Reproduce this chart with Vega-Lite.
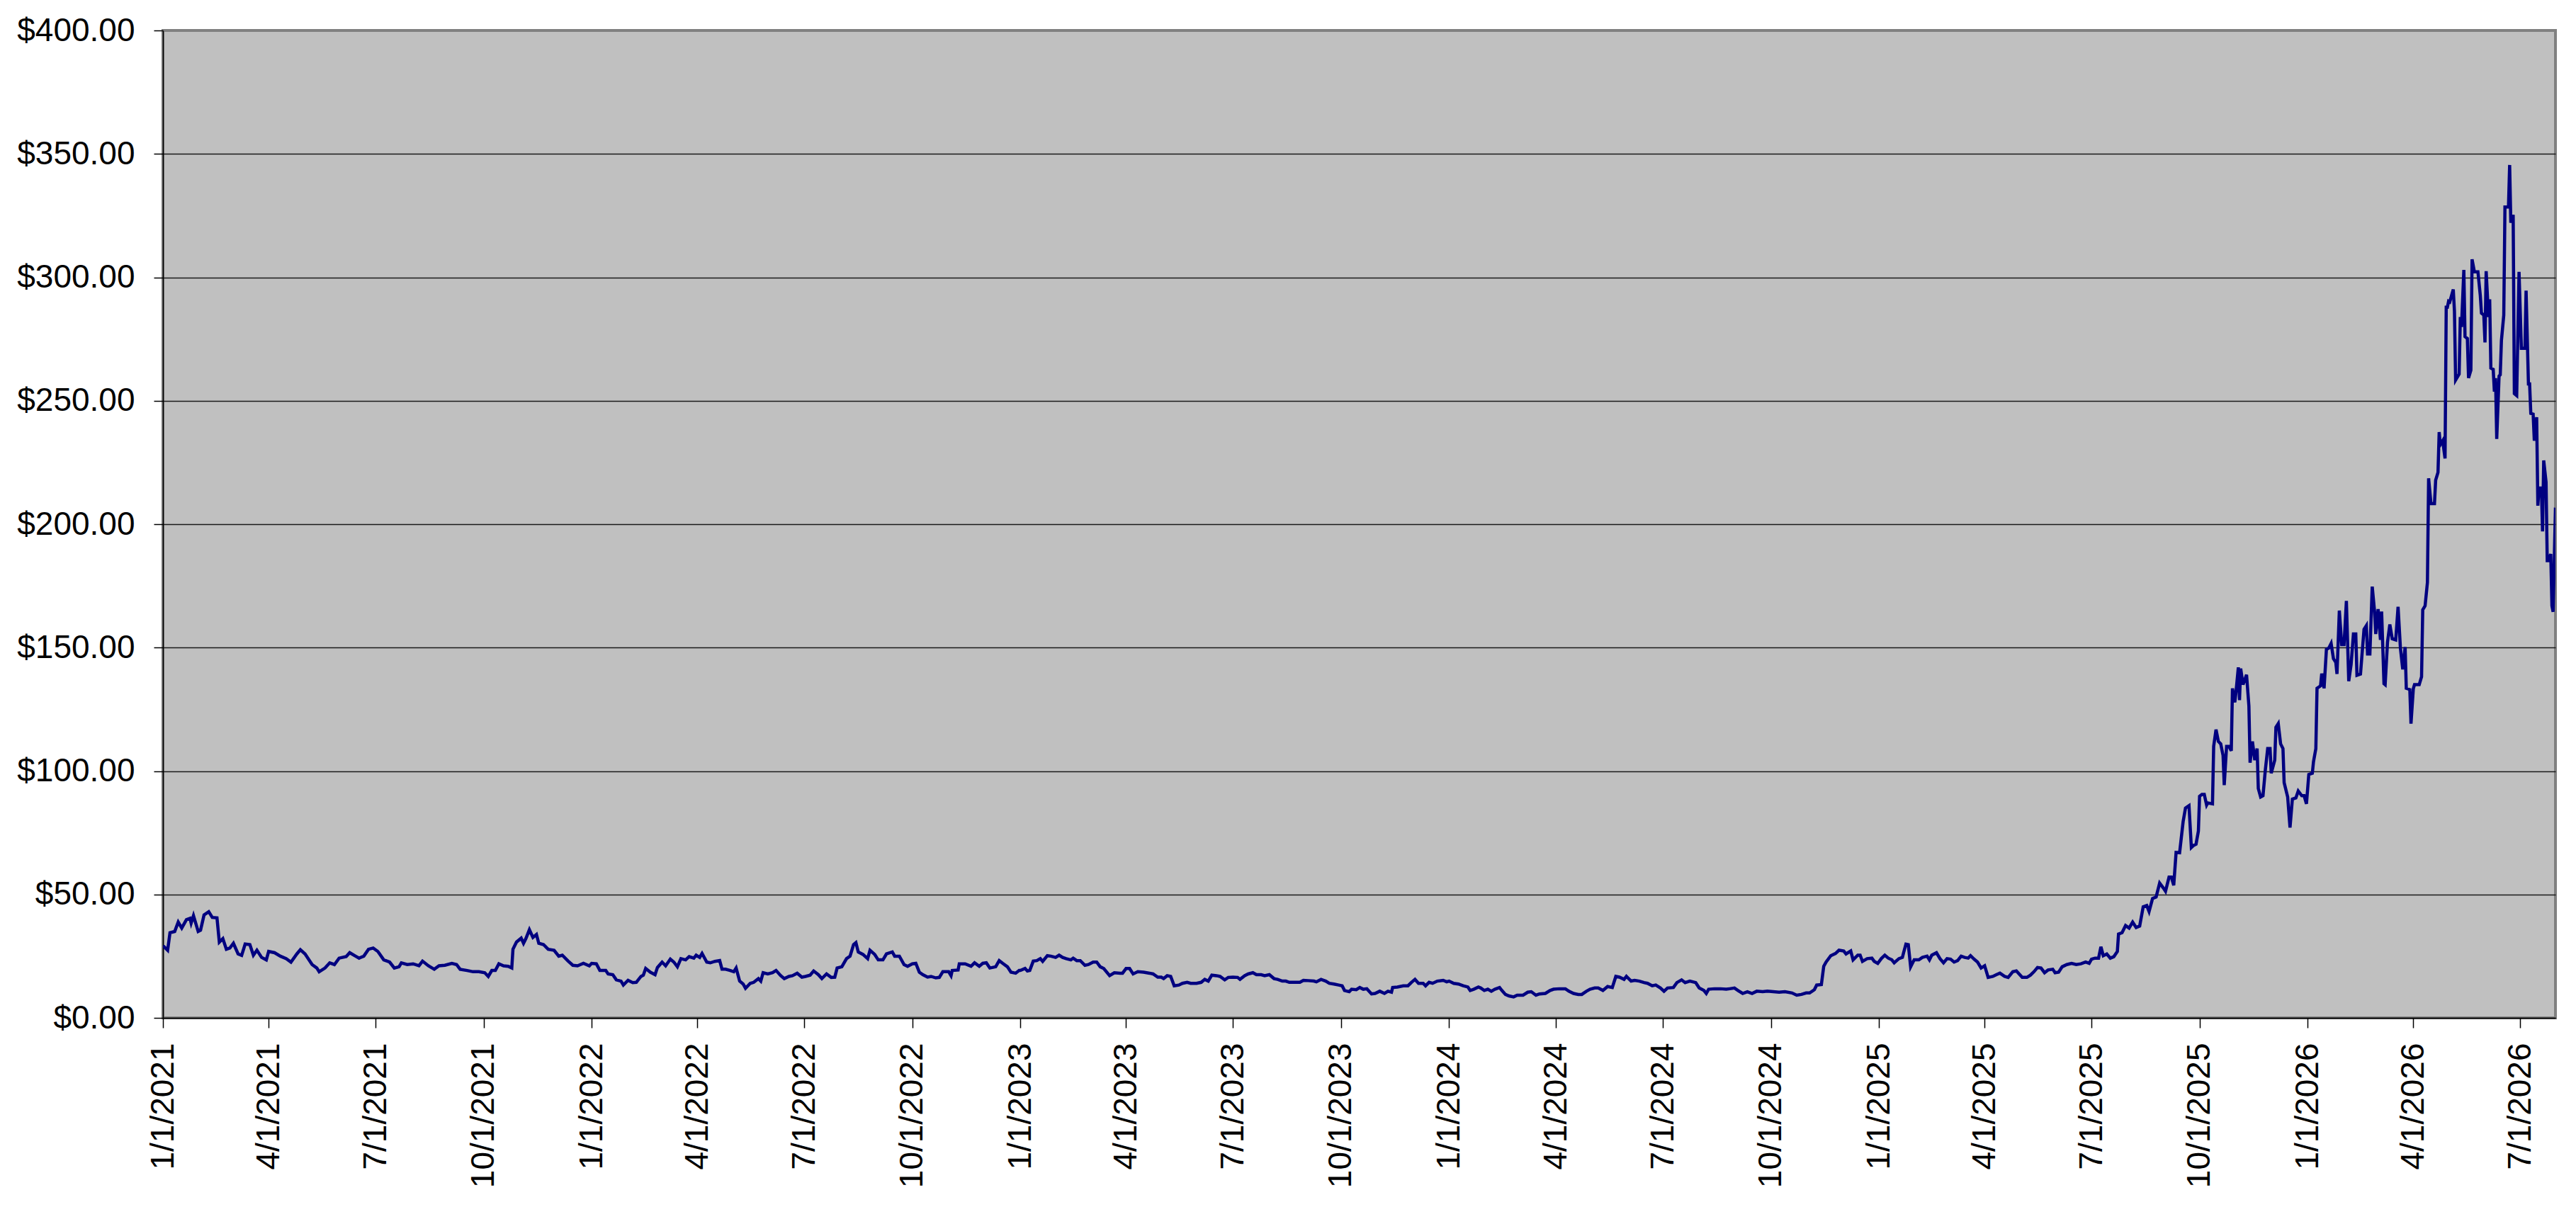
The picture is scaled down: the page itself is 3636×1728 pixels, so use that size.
{
  "$schema": "https://vega.github.io/schema/vega-lite/v6.json",
  "width": 3377,
  "height": 1394,
  "autosize": {"type": "none"},
  "padding": {"left": 230, "top": 43, "right": 29, "bottom": 291},
  "background": "white",
  "config": {
    "view": {"fill": "#C0C0C0", "stroke": "#808080", "strokeWidth": 4},
    "axis": {"labelFont": "Liberation Sans", "labelFontSize": 46, "labelColor": "black", "labelLimit": 0, "domainColor": "black", "domainWidth": 1.5, "tickColor": "black", "tickWidth": 1.5, "title": null}
  },
  "data": {
    "values": [
      {"date": "2021-01-01", "price": 28.5}, {"date": "2021-01-02", "price": 28.8}, {"date": "2021-01-05", "price": 27.4}, {"date": "2021-01-07", "price": 34.5},
      {"date": "2021-01-11", "price": 35}, {"date": "2021-01-14", "price": 38.8}, {"date": "2021-01-17", "price": 36.4}, {"date": "2021-01-21", "price": 39.8},
      {"date": "2021-01-24", "price": 40.3}, {"date": "2021-01-25", "price": 38.4}, {"date": "2021-01-27", "price": 41.4}, {"date": "2021-01-31", "price": 35},
      {"date": "2021-02-02", "price": 35.5}, {"date": "2021-02-05", "price": 41.7}, {"date": "2021-02-09", "price": 43}, {"date": "2021-02-12", "price": 40.7},
      {"date": "2021-02-16", "price": 40.5}, {"date": "2021-02-18", "price": 30.7}, {"date": "2021-02-21", "price": 32.1}, {"date": "2021-02-24", "price": 27.8},
      {"date": "2021-02-27", "price": 28.3}, {"date": "2021-03-02", "price": 30.2}, {"date": "2021-03-06", "price": 25.9}, {"date": "2021-03-09", "price": 25.3},
      {"date": "2021-03-12", "price": 29.9}, {"date": "2021-03-16", "price": 29.7}, {"date": "2021-03-19", "price": 25.4}, {"date": "2021-03-22", "price": 27.4},
      {"date": "2021-03-26", "price": 24.5}, {"date": "2021-03-30", "price": 23.5}, {"date": "2021-04-01", "price": 26.9}, {"date": "2021-04-06", "price": 26.4},
      {"date": "2021-04-11", "price": 25}, {"date": "2021-04-16", "price": 24}, {"date": "2021-04-20", "price": 22.6}, {"date": "2021-04-25", "price": 25.9},
      {"date": "2021-04-28", "price": 27.6}, {"date": "2021-05-02", "price": 25.9}, {"date": "2021-05-08", "price": 21.6}, {"date": "2021-05-12", "price": 20.2},
      {"date": "2021-05-14", "price": 18.7}, {"date": "2021-05-19", "price": 20.2}, {"date": "2021-05-23", "price": 22.3}, {"date": "2021-05-27", "price": 21.6},
      {"date": "2021-05-31", "price": 24.2}, {"date": "2021-06-06", "price": 24.8}, {"date": "2021-06-09", "price": 26.4}, {"date": "2021-06-14", "price": 25},
      {"date": "2021-06-17", "price": 24.2}, {"date": "2021-06-21", "price": 25}, {"date": "2021-06-25", "price": 27.8}, {"date": "2021-06-29", "price": 28.3},
      {"date": "2021-07-03", "price": 26.9}, {"date": "2021-07-08", "price": 23.5}, {"date": "2021-07-13", "price": 22.6}, {"date": "2021-07-17", "price": 20.2},
      {"date": "2021-07-21", "price": 20.7}, {"date": "2021-07-23", "price": 22.3}, {"date": "2021-07-28", "price": 21.6}, {"date": "2021-08-02", "price": 21.9},
      {"date": "2021-08-07", "price": 21.1}, {"date": "2021-08-10", "price": 23}, {"date": "2021-08-15", "price": 21.1}, {"date": "2021-08-20", "price": 19.7},
      {"date": "2021-08-24", "price": 21.1}, {"date": "2021-08-29", "price": 21.3}, {"date": "2021-09-04", "price": 22.1}, {"date": "2021-09-08", "price": 21.6},
      {"date": "2021-09-11", "price": 19.7}, {"date": "2021-09-17", "price": 19.2}, {"date": "2021-09-22", "price": 18.7}, {"date": "2021-09-27", "price": 18.7},
      {"date": "2021-10-02", "price": 18.3}, {"date": "2021-10-05", "price": 16.8}, {"date": "2021-10-08", "price": 19.2}, {"date": "2021-10-11", "price": 19.2},
      {"date": "2021-10-14", "price": 21.9}, {"date": "2021-10-18", "price": 21.1}, {"date": "2021-10-22", "price": 20.9}, {"date": "2021-10-25", "price": 20.2},
      {"date": "2021-10-26", "price": 27.8}, {"date": "2021-10-29", "price": 30.7}, {"date": "2021-11-02", "price": 32.3}, {"date": "2021-11-04", "price": 30.2},
      {"date": "2021-11-06", "price": 32.1}, {"date": "2021-11-09", "price": 35.7}, {"date": "2021-11-12", "price": 32.6}, {"date": "2021-11-15", "price": 33.8},
      {"date": "2021-11-17", "price": 30.2}, {"date": "2021-11-21", "price": 29.7}, {"date": "2021-11-25", "price": 27.8}, {"date": "2021-11-30", "price": 27.4},
      {"date": "2021-12-04", "price": 25}, {"date": "2021-12-07", "price": 25.4}, {"date": "2021-12-12", "price": 23}, {"date": "2021-12-16", "price": 21.3},
      {"date": "2021-12-20", "price": 21.1}, {"date": "2021-12-25", "price": 22.1}, {"date": "2021-12-30", "price": 21.1},
      {"date": "2022-01-01", "price": 22.1}, {"date": "2022-01-05", "price": 21.9}, {"date": "2022-01-08", "price": 19.2}, {"date": "2022-01-13", "price": 19.2},
      {"date": "2022-01-15", "price": 17.8}, {"date": "2022-01-19", "price": 17.5}, {"date": "2022-01-22", "price": 15.4}, {"date": "2022-01-26", "price": 14.9},
      {"date": "2022-01-28", "price": 13.3}, {"date": "2022-02-01", "price": 15.2}, {"date": "2022-02-05", "price": 14.3}, {"date": "2022-02-08", "price": 14.4},
      {"date": "2022-02-12", "price": 16.8}, {"date": "2022-02-14", "price": 17.3}, {"date": "2022-02-16", "price": 20}, {"date": "2022-02-20", "price": 18.5},
      {"date": "2022-02-24", "price": 17.5}, {"date": "2022-02-26", "price": 20.4}, {"date": "2022-03-02", "price": 22.6}, {"date": "2022-03-05", "price": 21.1},
      {"date": "2022-03-09", "price": 23.8}, {"date": "2022-03-12", "price": 22.6}, {"date": "2022-03-15", "price": 20.7}, {"date": "2022-03-18", "price": 24},
      {"date": "2022-03-22", "price": 23.5}, {"date": "2022-03-25", "price": 24.8}, {"date": "2022-03-29", "price": 24.2}, {"date": "2022-03-31", "price": 25.4},
      {"date": "2022-04-03", "price": 24.5}, {"date": "2022-04-05", "price": 26.1}, {"date": "2022-04-09", "price": 22.6}, {"date": "2022-04-12", "price": 22.3},
      {"date": "2022-04-16", "price": 22.9}, {"date": "2022-04-20", "price": 23.2}, {"date": "2022-04-22", "price": 19.7}, {"date": "2022-04-25", "price": 19.7},
      {"date": "2022-04-29", "price": 19.2}, {"date": "2022-05-02", "price": 18.7}, {"date": "2022-05-04", "price": 20.2}, {"date": "2022-05-07", "price": 14.9},
      {"date": "2022-05-10", "price": 13.7}, {"date": "2022-05-12", "price": 12}, {"date": "2022-05-16", "price": 14}, {"date": "2022-05-19", "price": 14.4},
      {"date": "2022-05-23", "price": 15.9}, {"date": "2022-05-25", "price": 14.9}, {"date": "2022-05-27", "price": 18.3}, {"date": "2022-05-31", "price": 17.8},
      {"date": "2022-06-04", "price": 18.3}, {"date": "2022-06-07", "price": 19.2}, {"date": "2022-06-11", "price": 17.1}, {"date": "2022-06-14", "price": 15.9},
      {"date": "2022-06-18", "price": 16.8}, {"date": "2022-06-21", "price": 17.1}, {"date": "2022-06-25", "price": 18.1}, {"date": "2022-06-29", "price": 16.5},
      {"date": "2022-07-02", "price": 16.8}, {"date": "2022-07-06", "price": 17.3}, {"date": "2022-07-09", "price": 19}, {"date": "2022-07-13", "price": 17.5},
      {"date": "2022-07-16", "price": 15.9}, {"date": "2022-07-20", "price": 17.8}, {"date": "2022-07-24", "price": 16.4}, {"date": "2022-07-27", "price": 16.5},
      {"date": "2022-07-29", "price": 20.2}, {"date": "2022-08-02", "price": 20.7}, {"date": "2022-08-06", "price": 24}, {"date": "2022-08-09", "price": 25},
      {"date": "2022-08-12", "price": 29.7}, {"date": "2022-08-14", "price": 30.5}, {"date": "2022-08-16", "price": 26.7}, {"date": "2022-08-20", "price": 25.7},
      {"date": "2022-08-24", "price": 24}, {"date": "2022-08-26", "price": 27.4}, {"date": "2022-08-30", "price": 25.7}, {"date": "2022-09-02", "price": 23.5},
      {"date": "2022-09-06", "price": 23.5}, {"date": "2022-09-09", "price": 25.9}, {"date": "2022-09-14", "price": 26.7}, {"date": "2022-09-16", "price": 25},
      {"date": "2022-09-20", "price": 25}, {"date": "2022-09-24", "price": 21.6}, {"date": "2022-09-27", "price": 20.9}, {"date": "2022-10-01", "price": 21.9},
      {"date": "2022-10-04", "price": 22.1}, {"date": "2022-10-07", "price": 18.5}, {"date": "2022-10-10", "price": 17.5}, {"date": "2022-10-14", "price": 16.5},
      {"date": "2022-10-17", "price": 16.8}, {"date": "2022-10-21", "price": 16.2}, {"date": "2022-10-24", "price": 16.4}, {"date": "2022-10-27", "price": 18.7},
      {"date": "2022-11-01", "price": 18.7}, {"date": "2022-11-03", "price": 17.1}, {"date": "2022-11-04", "price": 19.2}, {"date": "2022-11-09", "price": 19.4},
      {"date": "2022-11-10", "price": 21.9}, {"date": "2022-11-15", "price": 21.9}, {"date": "2022-11-20", "price": 20.9}, {"date": "2022-11-23", "price": 22.3},
      {"date": "2022-11-27", "price": 20.9}, {"date": "2022-11-30", "price": 22.1}, {"date": "2022-12-03", "price": 22.3}, {"date": "2022-12-06", "price": 20.2},
      {"date": "2022-12-11", "price": 20.7}, {"date": "2022-12-14", "price": 23.2}, {"date": "2022-12-17", "price": 22.1}, {"date": "2022-12-21", "price": 20.7},
      {"date": "2022-12-24", "price": 18.5}, {"date": "2022-12-28", "price": 18.1}, {"date": "2022-12-31", "price": 19.2},
      {"date": "2023-01-01", "price": 19.2}, {"date": "2023-01-05", "price": 20}, {"date": "2023-01-07", "price": 19}, {"date": "2023-01-09", "price": 19.2},
      {"date": "2023-01-12", "price": 23}, {"date": "2023-01-15", "price": 23.2}, {"date": "2023-01-18", "price": 24}, {"date": "2023-01-20", "price": 22.9},
      {"date": "2023-01-24", "price": 25.2}, {"date": "2023-01-27", "price": 25}, {"date": "2023-01-31", "price": 24.5}, {"date": "2023-02-03", "price": 25.4},
      {"date": "2023-02-06", "price": 24.5}, {"date": "2023-02-09", "price": 24}, {"date": "2023-02-13", "price": 23.5}, {"date": "2023-02-15", "price": 24.2},
      {"date": "2023-02-18", "price": 23.2}, {"date": "2023-02-21", "price": 23.2}, {"date": "2023-02-25", "price": 21.3}, {"date": "2023-02-28", "price": 21.6},
      {"date": "2023-03-04", "price": 22.6}, {"date": "2023-03-07", "price": 22.6}, {"date": "2023-03-10", "price": 20.7}, {"date": "2023-03-13", "price": 20},
      {"date": "2023-03-18", "price": 17.1}, {"date": "2023-03-22", "price": 18.3}, {"date": "2023-03-27", "price": 18.1}, {"date": "2023-03-29", "price": 18.1},
      {"date": "2023-04-01", "price": 20}, {"date": "2023-04-04", "price": 20}, {"date": "2023-04-07", "price": 17.8}, {"date": "2023-04-11", "price": 18.7},
      {"date": "2023-04-16", "price": 18.5}, {"date": "2023-04-21", "price": 18.1}, {"date": "2023-04-24", "price": 17.8}, {"date": "2023-04-28", "price": 16.5},
      {"date": "2023-05-01", "price": 16.5}, {"date": "2023-05-03", "price": 15.9}, {"date": "2023-05-06", "price": 17.1}, {"date": "2023-05-09", "price": 16.8},
      {"date": "2023-05-12", "price": 13}, {"date": "2023-05-16", "price": 13.3}, {"date": "2023-05-19", "price": 14}, {"date": "2023-05-23", "price": 14.4},
      {"date": "2023-05-26", "price": 14}, {"date": "2023-05-31", "price": 14}, {"date": "2023-06-04", "price": 14.4}, {"date": "2023-06-07", "price": 15.6},
      {"date": "2023-06-10", "price": 14.9}, {"date": "2023-06-13", "price": 17.3}, {"date": "2023-06-17", "price": 17.1}, {"date": "2023-06-20", "price": 16.8},
      {"date": "2023-06-24", "price": 15.4}, {"date": "2023-06-27", "price": 16.4}, {"date": "2023-07-01", "price": 16.5}, {"date": "2023-07-05", "price": 16.4},
      {"date": "2023-07-07", "price": 15.6}, {"date": "2023-07-11", "price": 17.1}, {"date": "2023-07-14", "price": 17.8}, {"date": "2023-07-18", "price": 18.3},
      {"date": "2023-07-21", "price": 17.5}, {"date": "2023-07-25", "price": 17.5}, {"date": "2023-07-28", "price": 17.1}, {"date": "2023-08-01", "price": 17.5},
      {"date": "2023-08-05", "price": 15.9}, {"date": "2023-08-08", "price": 15.6}, {"date": "2023-08-12", "price": 14.9}, {"date": "2023-08-15", "price": 14.9},
      {"date": "2023-08-18", "price": 14.4}, {"date": "2023-08-22", "price": 14.4}, {"date": "2023-08-27", "price": 14.4}, {"date": "2023-08-30", "price": 15.2},
      {"date": "2023-09-03", "price": 15.1}, {"date": "2023-09-08", "price": 14.9}, {"date": "2023-09-10", "price": 14.6}, {"date": "2023-09-14", "price": 15.6},
      {"date": "2023-09-18", "price": 14.9}, {"date": "2023-09-21", "price": 14}, {"date": "2023-09-25", "price": 13.7}, {"date": "2023-09-29", "price": 13.3},
      {"date": "2023-10-02", "price": 13}, {"date": "2023-10-04", "price": 11.1}, {"date": "2023-10-08", "price": 10.6}, {"date": "2023-10-10", "price": 11.6},
      {"date": "2023-10-14", "price": 11.4}, {"date": "2023-10-17", "price": 12.3}, {"date": "2023-10-20", "price": 11.6}, {"date": "2023-10-23", "price": 11.8},
      {"date": "2023-10-27", "price": 9.7}, {"date": "2023-10-30", "price": 9.9}, {"date": "2023-11-03", "price": 10.8}, {"date": "2023-11-07", "price": 9.9},
      {"date": "2023-11-10", "price": 10.8}, {"date": "2023-11-13", "price": 10.4}, {"date": "2023-11-14", "price": 12.3}, {"date": "2023-11-18", "price": 12.5},
      {"date": "2023-11-23", "price": 13}, {"date": "2023-11-27", "price": 13}, {"date": "2023-11-30", "price": 14.4}, {"date": "2023-12-03", "price": 15.6},
      {"date": "2023-12-06", "price": 14}, {"date": "2023-12-10", "price": 14}, {"date": "2023-12-12", "price": 13}, {"date": "2023-12-15", "price": 14.4},
      {"date": "2023-12-18", "price": 14}, {"date": "2023-12-22", "price": 14.9}, {"date": "2023-12-27", "price": 15.2}, {"date": "2023-12-30", "price": 14.6},
      {"date": "2024-01-01", "price": 14.9}, {"date": "2024-01-05", "price": 14}, {"date": "2024-01-09", "price": 13.7}, {"date": "2024-01-13", "price": 13},
      {"date": "2024-01-17", "price": 12.5}, {"date": "2024-01-19", "price": 11.1}, {"date": "2024-01-22", "price": 11.6}, {"date": "2024-01-26", "price": 12.5},
      {"date": "2024-01-28", "price": 12.1}, {"date": "2024-01-31", "price": 11.1}, {"date": "2024-02-03", "price": 11.6}, {"date": "2024-02-06", "price": 10.8},
      {"date": "2024-02-09", "price": 11.6}, {"date": "2024-02-13", "price": 12.3}, {"date": "2024-02-15", "price": 11.1}, {"date": "2024-02-18", "price": 9.5},
      {"date": "2024-02-21", "price": 8.9}, {"date": "2024-02-25", "price": 8.5}, {"date": "2024-02-28", "price": 9.2}, {"date": "2024-03-04", "price": 9.2},
      {"date": "2024-03-08", "price": 10.4}, {"date": "2024-03-11", "price": 10.6}, {"date": "2024-03-15", "price": 9.2}, {"date": "2024-03-18", "price": 9.7},
      {"date": "2024-03-23", "price": 9.9}, {"date": "2024-03-27", "price": 11.1}, {"date": "2024-03-30", "price": 11.6}, {"date": "2024-04-04", "price": 11.8},
      {"date": "2024-04-09", "price": 11.8}, {"date": "2024-04-12", "price": 10.8}, {"date": "2024-04-16", "price": 9.9}, {"date": "2024-04-20", "price": 9.5},
      {"date": "2024-04-23", "price": 9.5}, {"date": "2024-04-27", "price": 10.8}, {"date": "2024-04-30", "price": 11.6}, {"date": "2024-05-04", "price": 12.1},
      {"date": "2024-05-07", "price": 12.1}, {"date": "2024-05-11", "price": 11.1}, {"date": "2024-05-15", "price": 12.7}, {"date": "2024-05-19", "price": 12.3},
      {"date": "2024-05-22", "price": 16.8}, {"date": "2024-05-25", "price": 16.5}, {"date": "2024-05-29", "price": 15.6}, {"date": "2024-05-31", "price": 16.8},
      {"date": "2024-06-04", "price": 14.9}, {"date": "2024-06-07", "price": 15.2}, {"date": "2024-06-11", "price": 14.9}, {"date": "2024-06-15", "price": 14.3},
      {"date": "2024-06-18", "price": 14}, {"date": "2024-06-22", "price": 13}, {"date": "2024-06-25", "price": 13.3}, {"date": "2024-06-29", "price": 12.1},
      {"date": "2024-07-02", "price": 10.8}, {"date": "2024-07-05", "price": 12.1}, {"date": "2024-07-10", "price": 12.3}, {"date": "2024-07-13", "price": 14.3},
      {"date": "2024-07-17", "price": 15.4}, {"date": "2024-07-20", "price": 14.3}, {"date": "2024-07-24", "price": 14.9}, {"date": "2024-07-29", "price": 14.3},
      {"date": "2024-08-01", "price": 12.1}, {"date": "2024-08-05", "price": 11.1}, {"date": "2024-08-07", "price": 9.9}, {"date": "2024-08-09", "price": 11.6},
      {"date": "2024-08-14", "price": 11.8}, {"date": "2024-08-19", "price": 11.8}, {"date": "2024-08-24", "price": 11.6}, {"date": "2024-08-27", "price": 11.8},
      {"date": "2024-08-31", "price": 12.1}, {"date": "2024-09-03", "price": 11.1}, {"date": "2024-09-07", "price": 9.9}, {"date": "2024-09-11", "price": 10.6},
      {"date": "2024-09-15", "price": 9.9}, {"date": "2024-09-19", "price": 10.8}, {"date": "2024-09-24", "price": 10.6}, {"date": "2024-09-28", "price": 10.8},
      {"date": "2024-10-03", "price": 10.6}, {"date": "2024-10-08", "price": 10.4}, {"date": "2024-10-13", "price": 10.6}, {"date": "2024-10-19", "price": 10.1},
      {"date": "2024-10-23", "price": 9.2}, {"date": "2024-10-27", "price": 9.5}, {"date": "2024-10-31", "price": 10.1}, {"date": "2024-11-03", "price": 10.1},
      {"date": "2024-11-07", "price": 11.4}, {"date": "2024-11-09", "price": 13.3}, {"date": "2024-11-13", "price": 13.5}, {"date": "2024-11-15", "price": 20.9},
      {"date": "2024-11-17", "price": 22.6}, {"date": "2024-11-21", "price": 25.2}, {"date": "2024-11-25", "price": 26.1}, {"date": "2024-11-28", "price": 27.4},
      {"date": "2024-12-02", "price": 27.1}, {"date": "2024-12-04", "price": 25.9}, {"date": "2024-12-08", "price": 27.1}, {"date": "2024-12-10", "price": 23.5},
      {"date": "2024-12-14", "price": 25.4}, {"date": "2024-12-16", "price": 25.4}, {"date": "2024-12-18", "price": 22.9}, {"date": "2024-12-22", "price": 24},
      {"date": "2024-12-26", "price": 24.2}, {"date": "2024-12-28", "price": 22.9}, {"date": "2024-12-31", "price": 22.1},
      {"date": "2025-01-03", "price": 24}, {"date": "2025-01-06", "price": 25.4}, {"date": "2025-01-09", "price": 24.2}, {"date": "2025-01-12", "price": 23.5},
      {"date": "2025-01-14", "price": 22.3}, {"date": "2025-01-18", "price": 24}, {"date": "2025-01-21", "price": 24.5}, {"date": "2025-01-22", "price": 26.4},
      {"date": "2025-01-24", "price": 29.9}, {"date": "2025-01-26", "price": 29.7}, {"date": "2025-01-28", "price": 20.7}, {"date": "2025-01-31", "price": 23.5},
      {"date": "2025-02-04", "price": 23.5}, {"date": "2025-02-07", "price": 24.5}, {"date": "2025-02-11", "price": 25}, {"date": "2025-02-13", "price": 23.5},
      {"date": "2025-02-15", "price": 25.4}, {"date": "2025-02-19", "price": 26.4}, {"date": "2025-02-22", "price": 24}, {"date": "2025-02-25", "price": 22.3},
      {"date": "2025-02-28", "price": 24}, {"date": "2025-03-03", "price": 23.8}, {"date": "2025-03-06", "price": 22.6}, {"date": "2025-03-09", "price": 23.2},
      {"date": "2025-03-12", "price": 25}, {"date": "2025-03-15", "price": 24.5}, {"date": "2025-03-18", "price": 24.2}, {"date": "2025-03-20", "price": 25.2},
      {"date": "2025-03-23", "price": 23.8}, {"date": "2025-03-26", "price": 22.6}, {"date": "2025-03-29", "price": 20.2}, {"date": "2025-04-01", "price": 21.1},
      {"date": "2025-04-04", "price": 16.4}, {"date": "2025-04-08", "price": 16.8}, {"date": "2025-04-11", "price": 17.5}, {"date": "2025-04-14", "price": 18.1},
      {"date": "2025-04-18", "price": 16.8}, {"date": "2025-04-21", "price": 16.4}, {"date": "2025-04-25", "price": 18.7}, {"date": "2025-04-28", "price": 19},
      {"date": "2025-05-03", "price": 16.4}, {"date": "2025-05-07", "price": 16.4}, {"date": "2025-05-10", "price": 17.3}, {"date": "2025-05-13", "price": 18.7},
      {"date": "2025-05-16", "price": 20.4}, {"date": "2025-05-19", "price": 20.2}, {"date": "2025-05-22", "price": 18.3}, {"date": "2025-05-25", "price": 19.4},
      {"date": "2025-05-29", "price": 19.7}, {"date": "2025-05-31", "price": 18.3}, {"date": "2025-06-03", "price": 18.5}, {"date": "2025-06-06", "price": 20.7},
      {"date": "2025-06-10", "price": 21.6}, {"date": "2025-06-14", "price": 22.1}, {"date": "2025-06-18", "price": 21.6}, {"date": "2025-06-22", "price": 21.9},
      {"date": "2025-06-26", "price": 22.6}, {"date": "2025-06-29", "price": 22.1}, {"date": "2025-07-01", "price": 23.8}, {"date": "2025-07-04", "price": 24.2},
      {"date": "2025-07-07", "price": 24.2}, {"date": "2025-07-09", "price": 28.8}, {"date": "2025-07-11", "price": 25.2}, {"date": "2025-07-14", "price": 25.9},
      {"date": "2025-07-17", "price": 24.2}, {"date": "2025-07-20", "price": 24.8}, {"date": "2025-07-23", "price": 26.9}, {"date": "2025-07-24", "price": 34},
      {"date": "2025-07-27", "price": 34.5}, {"date": "2025-07-30", "price": 37.4}, {"date": "2025-08-02", "price": 36.4}, {"date": "2025-08-05", "price": 38.8},
      {"date": "2025-08-08", "price": 36.6}, {"date": "2025-08-11", "price": 37.2}, {"date": "2025-08-14", "price": 45}, {"date": "2025-08-17", "price": 45.5},
      {"date": "2025-08-19", "price": 43.1}, {"date": "2025-08-22", "price": 48.4}, {"date": "2025-08-25", "price": 49}, {"date": "2025-08-28", "price": 54.6},
      {"date": "2025-08-31", "price": 52.7}, {"date": "2025-09-02", "price": 51.3}, {"date": "2025-09-05", "price": 57}, {"date": "2025-09-07", "price": 57},
      {"date": "2025-09-09", "price": 53.7}, {"date": "2025-09-11", "price": 67}, {"date": "2025-09-14", "price": 66.9}, {"date": "2025-09-17", "price": 79.5},
      {"date": "2025-09-19", "price": 85}, {"date": "2025-09-22", "price": 86}, {"date": "2025-09-24", "price": 69}, {"date": "2025-09-26", "price": 69.9},
      {"date": "2025-09-28", "price": 70.4}, {"date": "2025-09-30", "price": 75.7}, {"date": "2025-10-01", "price": 89.8}, {"date": "2025-10-03", "price": 90.5},
      {"date": "2025-10-05", "price": 90.5}, {"date": "2025-10-07", "price": 86.2}, {"date": "2025-10-08", "price": 87.1}, {"date": "2025-10-12", "price": 86.7},
      {"date": "2025-10-13", "price": 110}, {"date": "2025-10-15", "price": 116.8}, {"date": "2025-10-17", "price": 112}, {"date": "2025-10-19", "price": 111},
      {"date": "2025-10-21", "price": 106.3}, {"date": "2025-10-22", "price": 94.3}, {"date": "2025-10-24", "price": 110}, {"date": "2025-10-26", "price": 110},
      {"date": "2025-10-28", "price": 108.2}, {"date": "2025-10-29", "price": 133.5}, {"date": "2025-10-31", "price": 127.8}, {"date": "2025-11-01", "price": 132},
      {"date": "2025-11-03", "price": 142}, {"date": "2025-11-04", "price": 128.7}, {"date": "2025-11-05", "price": 141.5}, {"date": "2025-11-07", "price": 135},
      {"date": "2025-11-10", "price": 139}, {"date": "2025-11-12", "price": 126.3}, {"date": "2025-11-13", "price": 103.4}, {"date": "2025-11-15", "price": 112},
      {"date": "2025-11-17", "price": 104.4}, {"date": "2025-11-19", "price": 109.1}, {"date": "2025-11-20", "price": 92.9}, {"date": "2025-11-22", "price": 89.5},
      {"date": "2025-11-24", "price": 90}, {"date": "2025-11-26", "price": 100.5}, {"date": "2025-11-28", "price": 109.1}, {"date": "2025-11-30", "price": 109.1},
      {"date": "2025-12-01", "price": 99.1}, {"date": "2025-12-04", "price": 104.4}, {"date": "2025-12-05", "price": 117.7}, {"date": "2025-12-07", "price": 119.2},
      {"date": "2025-12-09", "price": 111}, {"date": "2025-12-11", "price": 109.1}, {"date": "2025-12-12", "price": 95.3}, {"date": "2025-12-15", "price": 89.5},
      {"date": "2025-12-17", "price": 77.1}, {"date": "2025-12-19", "price": 88.6}, {"date": "2025-12-22", "price": 89.1}, {"date": "2025-12-24", "price": 91.9},
      {"date": "2025-12-27", "price": 90}, {"date": "2025-12-29", "price": 90}, {"date": "2025-12-31", "price": 86.7},
      {"date": "2026-01-02", "price": 98.6}, {"date": "2026-01-05", "price": 99.1}, {"date": "2026-01-06", "price": 103.8}, {"date": "2026-01-08", "price": 109.1},
      {"date": "2026-01-09", "price": 133.5}, {"date": "2026-01-12", "price": 134.5}, {"date": "2026-01-13", "price": 139.5}, {"date": "2026-01-15", "price": 133.5},
      {"date": "2026-01-17", "price": 149.3}, {"date": "2026-01-19", "price": 149.8}, {"date": "2026-01-21", "price": 151.7}, {"date": "2026-01-23", "price": 145.5},
      {"date": "2026-01-25", "price": 144}, {"date": "2026-01-26", "price": 139.3}, {"date": "2026-01-28", "price": 165}, {"date": "2026-01-30", "price": 151.2},
      {"date": "2026-02-01", "price": 151.2}, {"date": "2026-02-03", "price": 168.9}, {"date": "2026-02-05", "price": 136.4}, {"date": "2026-02-07", "price": 143.1},
      {"date": "2026-02-09", "price": 155.5}, {"date": "2026-02-11", "price": 155.5}, {"date": "2026-02-12", "price": 138.8}, {"date": "2026-02-15", "price": 139.3},
      {"date": "2026-02-18", "price": 157.4}, {"date": "2026-02-20", "price": 158.9}, {"date": "2026-02-21", "price": 147.4}, {"date": "2026-02-23", "price": 147.4},
      {"date": "2026-02-25", "price": 174.7}, {"date": "2026-02-27", "price": 164.6}, {"date": "2026-02-28", "price": 155.5}, {"date": "2026-03-02", "price": 165.6},
      {"date": "2026-03-04", "price": 153.1}, {"date": "2026-03-05", "price": 164.6}, {"date": "2026-03-07", "price": 135.4}, {"date": "2026-03-08", "price": 135},
      {"date": "2026-03-10", "price": 152.2}, {"date": "2026-03-12", "price": 159.4}, {"date": "2026-03-14", "price": 153.6}, {"date": "2026-03-17", "price": 153.1},
      {"date": "2026-03-19", "price": 166.5}, {"date": "2026-03-21", "price": 149.8}, {"date": "2026-03-23", "price": 141.2}, {"date": "2026-03-25", "price": 150.2},
      {"date": "2026-03-26", "price": 133.5}, {"date": "2026-03-29", "price": 133}, {"date": "2026-03-30", "price": 119.2}, {"date": "2026-04-01", "price": 133.4},
      {"date": "2026-04-02", "price": 135}, {"date": "2026-04-06", "price": 135}, {"date": "2026-04-08", "price": 138.2}, {"date": "2026-04-09", "price": 165.3},
      {"date": "2026-04-11", "price": 166.9}, {"date": "2026-04-13", "price": 176.4}, {"date": "2026-04-14", "price": 218.6}, {"date": "2026-04-16", "price": 208.3},
      {"date": "2026-04-19", "price": 208.3}, {"date": "2026-04-20", "price": 217.8}, {"date": "2026-04-22", "price": 221}, {"date": "2026-04-23", "price": 237.3},
      {"date": "2026-04-24", "price": 232.2}, {"date": "2026-04-26", "price": 233.8}, {"date": "2026-04-28", "price": 226.6}, {"date": "2026-04-29", "price": 287.9},
      {"date": "2026-04-30", "price": 287.9}, {"date": "2026-05-01", "price": 290.3}, {"date": "2026-05-02", "price": 290}, {"date": "2026-05-05", "price": 295.1},
      {"date": "2026-05-06", "price": 286.3}, {"date": "2026-05-07", "price": 258.4}, {"date": "2026-05-10", "price": 260.8}, {"date": "2026-05-11", "price": 283.9},
      {"date": "2026-05-12", "price": 279.9}, {"date": "2026-05-14", "price": 303}, {"date": "2026-05-15", "price": 276}, {"date": "2026-05-17", "price": 275.2},
      {"date": "2026-05-18", "price": 259.2}, {"date": "2026-05-20", "price": 262.4}, {"date": "2026-05-21", "price": 307.3}, {"date": "2026-05-23", "price": 302.2},
      {"date": "2026-05-26", "price": 302.2}, {"date": "2026-05-28", "price": 292.7}, {"date": "2026-05-29", "price": 285.5}, {"date": "2026-05-31", "price": 284.7},
      {"date": "2026-06-01", "price": 273.6}, {"date": "2026-06-02", "price": 302.5}, {"date": "2026-06-04", "price": 283.9}, {"date": "2026-06-05", "price": 291.1},
      {"date": "2026-06-06", "price": 263.2}, {"date": "2026-06-08", "price": 262.7}, {"date": "2026-06-09", "price": 253.7}, {"date": "2026-06-10", "price": 259.2},
      {"date": "2026-06-11", "price": 234.5}, {"date": "2026-06-13", "price": 260}, {"date": "2026-06-14", "price": 260.5}, {"date": "2026-06-15", "price": 274.4},
      {"date": "2026-06-17", "price": 284.7}, {"date": "2026-06-18", "price": 328.5}, {"date": "2026-06-21", "price": 328.5}, {"date": "2026-06-22", "price": 345.5},
      {"date": "2026-06-23", "price": 322.1}, {"date": "2026-06-25", "price": 325.3}, {"date": "2026-06-26", "price": 252.9}, {"date": "2026-06-28", "price": 252.1},
      {"date": "2026-06-30", "price": 302.2}, {"date": "2026-07-01", "price": 286.3}, {"date": "2026-07-02", "price": 271.2}, {"date": "2026-07-05", "price": 271.2},
      {"date": "2026-07-06", "price": 294.6}, {"date": "2026-07-08", "price": 256.8}, {"date": "2026-07-09", "price": 256.8}, {"date": "2026-07-10", "price": 244.9},
      {"date": "2026-07-12", "price": 244.6}, {"date": "2026-07-13", "price": 233.8}, {"date": "2026-07-15", "price": 243.3}, {"date": "2026-07-16", "price": 207.5},
      {"date": "2026-07-17", "price": 214.6}, {"date": "2026-07-19", "price": 214.6}, {"date": "2026-07-20", "price": 197.1}, {"date": "2026-07-21", "price": 225.8},
      {"date": "2026-07-23", "price": 217}, {"date": "2026-07-24", "price": 185.2}, {"date": "2026-07-25", "price": 185.2}, {"date": "2026-07-27", "price": 187.9},
      {"date": "2026-07-28", "price": 166.9}, {"date": "2026-07-29", "price": 164.5}, {"date": "2026-07-31", "price": 206.7}
    ]
  },
  "mark": {"type": "line", "color": "#000080", "strokeWidth": 4.5, "clip": true},
  "encoding": {
    "x": {
      "field": "date",
      "type": "temporal",
      "scale": {"type": "utc", "domain": ["2021-01-01", "2026-07-31"], "nice": false},
      "axis": {
        "grid": false,
        "tickCount": {"interval": "month", "step": 3},
        "labelExpr": "utcFormat(datum.value, '%-m/%-d/%Y')",
        "labelAngle": 270,
        "labelAlign": "right",
        "labelBaseline": "middle",
        "labelPadding": 21,
        "tickSize": 14,
        "labelOverlap": false,
        "labelFlush": false
      }
    },
    "y": {
      "field": "price",
      "type": "quantitative",
      "scale": {"domain": [0, 400], "nice": false, "zero": true},
      "axis": {
        "values": [0, 50, 100, 150, 200, 250, 300, 350, 400],
        "format": "$.2f",
        "grid": true,
        "gridColor": {"condition": {"test": "datum.value === 400", "value": "#808080"}, "value": "#1a1a1a"},
        "gridWidth": 1.3,
        "tickSize": 13,
        "labelPadding": 27,
        "labelFlush": false,
        "labelOverlap": false
      }
    }
  }
}
